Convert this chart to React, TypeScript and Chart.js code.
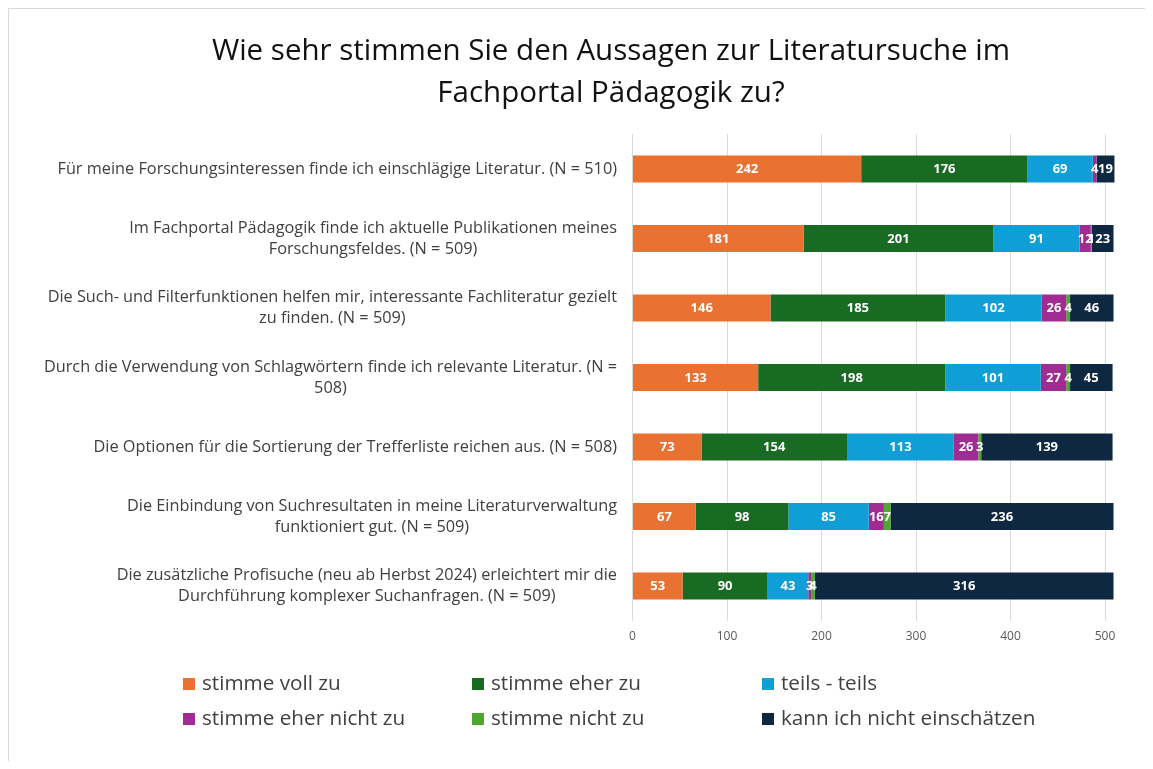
import React, { useEffect, useRef } from "react";
import { Chart, registerables } from "chart.js";

Chart.register(...registerables);

const categories: string[][] = [
  ["Für meine Forschungsinteressen finde ich einschlägige Literatur. (N = 510)"],
  ["Im Fachportal Pädagogik finde ich aktuelle Publikationen meines", "Forschungsfeldes. (N = 509)"],
  ["Die Such- und Filterfunktionen helfen mir, interessante Fachliteratur gezielt", "zu finden. (N = 509)"],
  ["Durch die Verwendung von Schlagwörtern finde ich relevante Literatur. (N =", "508)"],
  ["Die Optionen für die Sortierung der Trefferliste reichen aus. (N = 508)"],
  ["Die Einbindung von Suchresultaten in meine Literaturverwaltung", "funktioniert gut. (N = 509)"],
  ["Die zusätzliche Profisuche (neu ab Herbst 2024) erleichtert mir die", "Durchführung komplexer Suchanfragen. (N = 509)"],
];

const seriesNames = [
  "stimme voll zu",
  "stimme eher zu",
  "teils - teils",
  "stimme eher nicht zu",
  "stimme nicht zu",
  "kann ich nicht einschätzen",
];

const stimmeVollZu = [242, 181, 146, 133, 73, 67, 53];
const stimmeEherZu = [176, 201, 185, 198, 154, 98, 90];
const teilsTeils = [69, 91, 102, 101, 113, 85, 43];
const stimmeEherNichtZu = [4, 12, 26, 27, 26, 16, 3];
const stimmeNichtZu = [0, 1, 4, 4, 3, 7, 4];
const kannIchNichtEinschaetzen = [19, 23, 46, 45, 139, 236, 316];

const xTicks = [0, 100, 200, 300, 400, 500];

const colors = ["#E97132", "#196B24", "#0F9ED5", "#A02B93", "#4EA72E", "#0E2841"];

const titleLines = [
  "Wie sehr stimmen Sie den Aussagen zur Literatursuche im",
  "Fachportal Pädagogik zu?",
];

const FONT = '"Open Sans", "Noto Sans", sans-serif';

export default function App() {
  const ref = useRef<HTMLCanvasElement | null>(null);

  useEffect(() => {
    if (!ref.current) return;
    const values = [
      stimmeVollZu,
      stimmeEherZu,
      teilsTeils,
      stimmeEherNichtZu,
      stimmeNichtZu,
      kannIchNichtEinschaetzen,
    ];

    const valueLabels = {
      id: "valueLabels",
      afterDatasetsDraw(chart: any) {
        const ctx = chart.ctx;
        ctx.save();
        ctx.font = `bold 13px ${FONT}`;
        ctx.fillStyle = "#ffffff";
        ctx.textAlign = "center";
        ctx.textBaseline = "middle";
        chart.data.datasets.forEach((ds: any, di: number) => {
          const meta = chart.getDatasetMeta(di);
          meta.data.forEach((el: any, i: number) => {
            const v = ds.data[i];
            if (!v) return;
            ctx.fillText(String(v), (el.x + el.base) / 2, el.y + 0.5);
          });
        });
        ctx.restore();
      },
    };

    const yLabels = {
      id: "yLabels",
      afterDraw(chart: any) {
        const ctx = chart.ctx;
        const ys = chart.scales.y;
        const right = chart.chartArea.left - 15.5;
        const lh = 21;
        ctx.save();
        ctx.font = `16.3px ${FONT}`;
        ctx.fillStyle = "#404040";
        ctx.textAlign = "center";
        ctx.textBaseline = "middle";
        categories.forEach((lines, i) => {
          const y = ys.getPixelForValue(i);
          const w = Math.max(...lines.map((l) => ctx.measureText(l).width));
          const cx = right - w / 2;
          const y0 = y - ((lines.length - 1) * lh) / 2;
          lines.forEach((l, j) => ctx.fillText(l, cx, y0 + j * lh));
        });
        ctx.restore();
      },
    };

    const gridLegend = {
      id: "gridLegend",
      afterDraw(chart: any) {
        const ctx = chart.ctx;
        const colX = [174, 463, 753];
        const rowY = [675, 710];
        ctx.save();
        ctx.font = `20.7px ${FONT}`;
        ctx.textBaseline = "middle";
        ctx.textAlign = "left";
        seriesNames.forEach((name, i) => {
          const x = colX[i % 3];
          const y = rowY[Math.floor(i / 3)];
          ctx.fillStyle = colors[i];
          ctx.fillRect(x, y - 6, 12, 12);
          ctx.fillStyle = "#404040";
          ctx.fillText(name, x + 19, y);
        });
        ctx.restore();
      },
    };

    const chart = new Chart(ref.current, {
      type: "bar",
      data: {
        labels: categories.map((c) => c.join(" ")),
        datasets: seriesNames.map((name, i) => ({
          label: name,
          data: values[i],
          backgroundColor: colors[i],
          borderWidth: 0,
          barPercentage: 0.39,
          categoryPercentage: 1,
        })),
      },
      options: {
        indexAxis: "y",
        responsive: false,
        animation: false,
        devicePixelRatio: 1,
        layout: { padding: { left: 97.6, right: 37.6, top: 0, bottom: 112.25 } },
        plugins: {
          legend: { display: false },
          tooltip: { enabled: false },
          title: {
            display: true,
            text: titleLines,
            color: "#111111",
            font: { family: FONT, size: 29.5, weight: "normal", lineHeight: 42 / 29.5 },
            padding: { top: 22, bottom: 19.25 },
          },
        },
        scales: {
          x: {
            stacked: true,
            min: 0,
            max: 511,
            afterBuildTicks: (scale: any) => {
              scale.ticks = xTicks.map((v) => ({ value: v }));
            },
            afterFit: (scale: any) => {
              scale.height = 28;
            },
            grid: { color: "#D9D9D9", lineWidth: 1, drawTicks: false },
            border: { display: false },
            ticks: {
              padding: 9,
              color: "#595959",
              font: { family: FONT, size: 12 },
            },
          },
          y: {
            stacked: true,
            afterFit: (scale: any) => {
              scale.width = 623.5 - 97.6;
            },
            grid: { display: false },
            border: { display: false },
            ticks: { display: false },
          },
        },
      },
      plugins: [valueLabels, yLabels, gridLegend],
    } as any);

    return () => chart.destroy();
  }, []);

  return (
    <div
      style={{
        width: 1145,
        height: 753,
        boxSizing: "border-box",
        borderTop: "1px solid #d9d9d9",
        borderLeft: "1px solid #d9d9d9",
        overflow: "hidden",
        background: "#fff",
      }}
    >
      <canvas ref={ref} width={1144} height={752} style={{ display: "block", width: 1144, height: 752 }} />
    </div>
  );
}
